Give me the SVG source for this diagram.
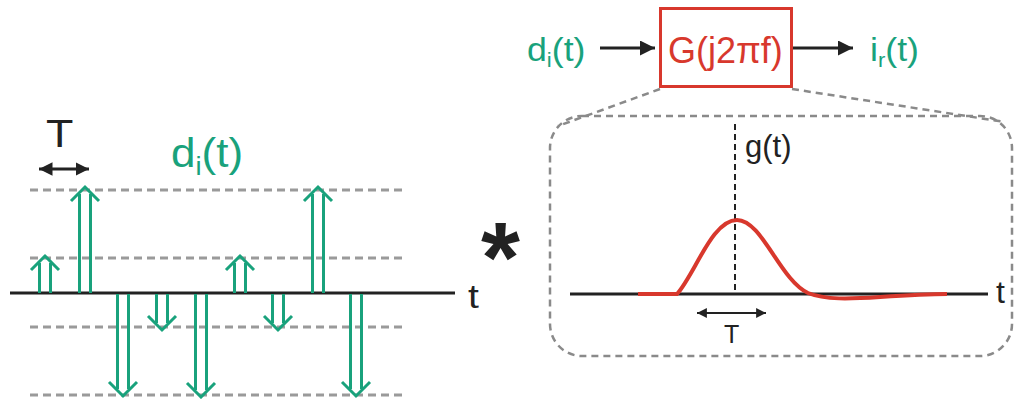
<svg xmlns="http://www.w3.org/2000/svg" width="1018" height="399" viewBox="0 0 1018 399">
<defs>
<style>
.txt{font-family:"Liberation Sans",Arial,sans-serif}
.grn{fill:#19a27c}
.red{fill:#d8382d}
.blk{fill:#222}
.grid{stroke:#9a9a9a;stroke-width:3;stroke-dasharray:8 5;fill:none}
.axis{stroke:#222;stroke-width:3;fill:none}
.imp{stroke:#19a27c;stroke-width:3;fill:none;stroke-linejoin:miter}
.conn{stroke:#222;stroke-width:3;fill:none}
.zoomline{stroke:#8a8a8a;stroke-width:2.5;stroke-dasharray:7 5;fill:none}
</style>
<marker id="ah" viewBox="0 0 10 10" refX="10" refY="5" markerWidth="6" markerHeight="5" markerUnits="strokeWidth" orient="auto">
<path d="M0,0 L10,5 L0,10 z" fill="#222"/>
</marker>
<marker id="ahs" viewBox="0 0 10 10" refX="10" refY="5" markerWidth="4.5" markerHeight="4.5" markerUnits="strokeWidth" orient="auto-start-reverse">
<path d="M0,0 L10,5 L0,10 z" fill="#222"/>
</marker>
</defs>
<rect width="1018" height="399" fill="#fff"/>

<g id="waveform">
<line class="grid" x1="30" y1="190" x2="406" y2="190"/>
<line class="grid" x1="30" y1="258" x2="406" y2="258"/>
<line class="grid" x1="30" y1="327" x2="406" y2="327"/>
<line class="grid" x1="30" y1="395" x2="406" y2="395"/>
<line class="axis" x1="10" y1="293" x2="455" y2="293"/>
<text class="txt blk" font-size="34" transform="translate(468,308) scale(1.15,1)">t</text>
<g class="imp">
<path d="M39.5 293V263M50.5 293V263M31 270L45 256L59 270"/>
<path d="M79.5 293V194M90.5 293V194M71 201L85 187L99 201"/>
<path d="M117.5 294V389M128.5 294V389M109 382L123 396L137 382"/>
<path d="M156.5 294V323M167.5 294V323M148 316L162 330L176 316"/>
<path d="M195.5 294V390M206.5 294V390M187 383L201 397L215 383"/>
<path d="M234.5 293V263M245.5 293V263M226 270L240 256L254 270"/>
<path d="M272.5 294V323M283.5 294V323M264 316L278 330L292 316"/>
<path d="M312.5 293V194M323.5 293V194M304 201L318 187L332 201"/>
<path d="M350.5 294V389M361.5 294V389M342 382L356 396L370 382"/>
</g>
<line x1="39" y1="169" x2="89" y2="169" stroke="#222" stroke-width="3" marker-start="url(#ahs)" marker-end="url(#ahs)"/>
<text class="txt blk" font-size="39" transform="translate(46,147) scale(1.15,1)">T</text>
<text class="txt grn" font-size="40" transform="translate(171,167) scale(1.1,1)">d<tspan font-size="25" dy="8">i</tspan><tspan dy="-8">(t)</tspan></text>
</g>

<g id="convolution">
<text class="txt blk" font-size="100" font-weight="bold" x="481" y="292">*</text>
</g>

<g id="input-label">
<text class="txt grn" font-size="34" transform="translate(527,61) scale(1.05,1)">d<tspan font-size="21" dy="6">i</tspan><tspan dy="-6">(t)</tspan></text>
</g>

<g id="filter">
<rect x="660.5" y="8.5" width="131" height="78" fill="#fff" stroke="#d8382d" stroke-width="3"/>
<text class="txt red" font-size="36" x="668" y="63">G(j2πf)</text>
</g>

<g id="output-label">
<text class="txt grn" font-size="34" transform="translate(870,61) scale(1.05,1)">i<tspan font-size="21" dy="6">r</tspan><tspan dy="-6">(t)</tspan></text>
</g>

<g id="impulse-response">
<rect class="zoomline" x="550" y="116" width="462" height="240" rx="32" ry="32"/>
<line x1="735" y1="124" x2="735" y2="294" stroke="#222" stroke-width="2" stroke-dasharray="6 4"/>
<text class="txt blk" font-size="31" x="745" y="157">g(t)</text>
<line class="axis" x1="570" y1="294" x2="988" y2="294"/>
<text class="txt blk" font-size="32" x="996" y="303">t</text>
<path d="M638,294 L677,294 C695,274 712,220 737,220 C762,220 780,280 808,293 C825,300 850,299 880,297 C910,295 930,294 947,294" fill="none" stroke="#d8382d" stroke-width="4"/>
<line x1="697" y1="313" x2="766" y2="313" stroke="#222" stroke-width="2.2" marker-start="url(#ahs)" marker-end="url(#ahs)"/>
<text class="txt blk" font-size="25" x="724" y="343">T</text>
</g>

<g id="connectors">
<line class="conn" x1="600" y1="48" x2="655" y2="48" marker-end="url(#ah)"/>
<line class="conn" x1="793" y1="48" x2="853" y2="48" marker-end="url(#ah)"/>
<line class="zoomline" x1="660" y1="89" x2="558" y2="126"/>
<line class="zoomline" x1="792" y1="89" x2="1005" y2="122"/>
</g>
</svg>
